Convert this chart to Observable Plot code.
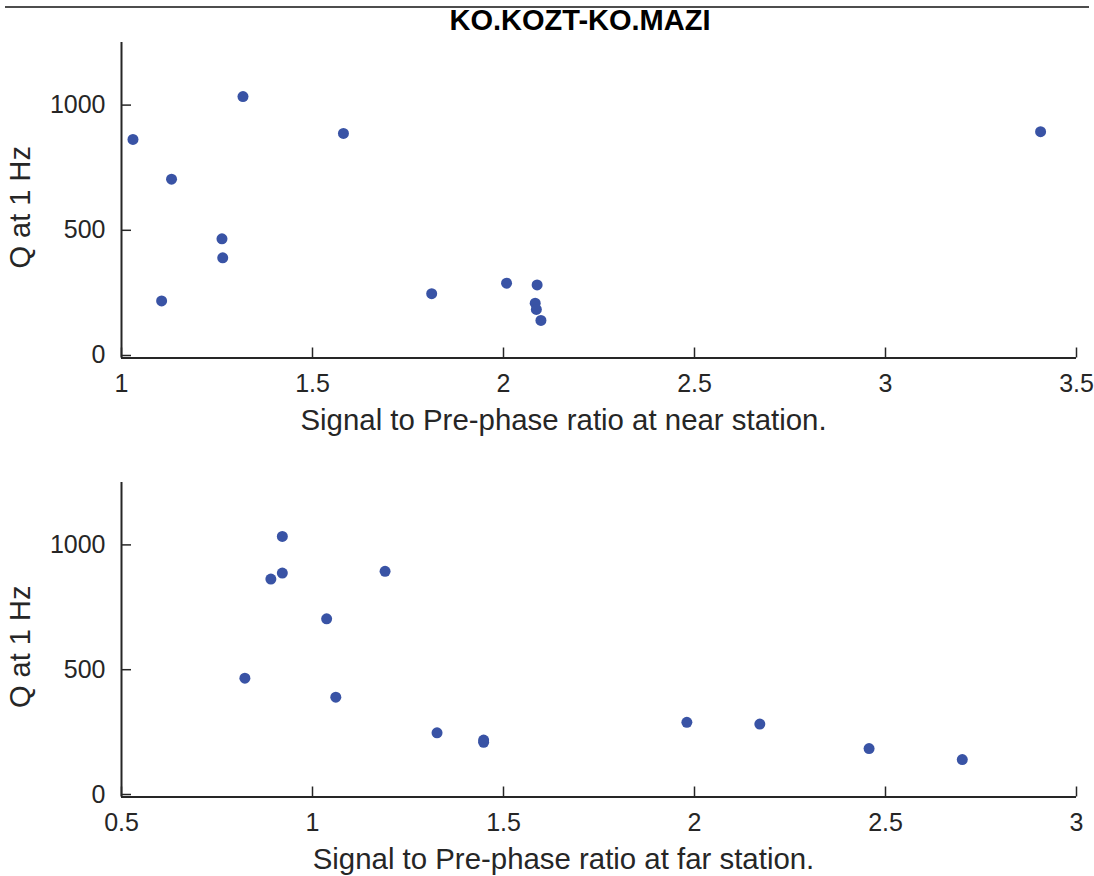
<!DOCTYPE html>
<html>
<head>
<meta charset="utf-8">
<script src="https://cdn.jsdelivr.net/npm/d3@7"></script>
<script src="https://cdn.jsdelivr.net/npm/@observablehq/plot@0.6"></script>
<style>
  body { margin: 0; background: #fff; width: 1094px; height: 876px; position: relative; overflow: hidden;
         font-family: "Liberation Sans", Arial, sans-serif; color: #262626; }
  #rule { position: absolute; left: 5px; top: 6px; width: 1084px; height: 2px; background: #4d4d4d; }
  #title { position: absolute; top: 6px; left: 0; width: 1160px; text-align: center; font-weight: bold;
           font-size: 29px; line-height: 29px; color: #000; }
  #near { position: absolute; top: 36px; left: 0; }
  #far { position: absolute; top: 466px; left: 0; }
</style>
</head>
<body>
<div id="rule"></div>
<div id="title">KO.KOZT-KO.MAZI</div>
<div id="near"></div>
<div id="far"></div>
<script>
// Q at 1 Hz for each station-pair measurement
const qAt1Hz = [863, 218, 704, 466, 390, 1034, 887, 247, 289, 282, 209, 184, 140, 894];
// Signal to pre-phase ratio at the near station
const nearRatio = [1.030, 1.105, 1.131, 1.263, 1.265, 1.318, 1.581, 1.812, 2.008, 2.088, 2.083, 2.086, 2.098, 3.406];
// Signal to pre-phase ratio at the far station
const farRatio = [0.891, 1.448, 1.037, 0.823, 1.061, 0.921, 0.921, 1.326, 1.980, 2.171, 1.448, 2.457, 2.701, 1.190];

const qTicks = [0, 500, 1000];
const nearTicks = [1, 1.5, 2, 2.5, 3, 3.5];
const farTicks = [0.5, 1, 1.5, 2, 2.5, 3];
const qDomain = [-10, 1250];
const nearDomain = [1, 3.5];
const farDomain = [0.5, 3];

const ink = "#262626";
const dotColor = "#3953a5";
const W = 1094, ML = 121, MR = 18;

function panel({ratio, xDomain, xTicks, xLabel, height, marginTop, marginBottom}) {
  const rows = qAt1Hz.map((q, i) => ({ratio: ratio[i], q}));
  const innerH = height - marginTop - marginBottom;
  const innerW = W - ML - MR;
  return Plot.plot({
    width: W, height, marginLeft: ML, marginRight: MR, marginTop, marginBottom,
    style: {fontFamily: "Liberation Sans, Arial, sans-serif", color: ink, background: "white", overflow: "visible"},
    x: {domain: xDomain},
    y: {domain: qDomain},
    marks: [
      Plot.axisX(xTicks, {tickSize: 0, tickPadding: 16, fontSize: 25, tickFormat: d => String(d), label: null}),
      Plot.axisY(qTicks, {tickSize: 0, tickPadding: 16, fontSize: 25, tickFormat: d => String(d), label: null}),
      // inward-pointing tick marks
      Plot.tickX(xTicks, {x: d => d, insetTop: innerH - 10, stroke: ink, strokeWidth: 1.5}),
      Plot.tickY(qTicks, {y: d => d, insetRight: innerW - 10, stroke: ink, strokeWidth: 1.5}),
      // left and bottom axis lines
      Plot.ruleX([xDomain[0]], {stroke: ink, strokeWidth: 2}),
      Plot.ruleY([qDomain[0]], {stroke: ink, strokeWidth: 2}),
      Plot.dot(rows, {x: "ratio", y: "q", r: 5.5, fill: dotColor}),
      Plot.text([xLabel], {frameAnchor: "bottom", dx: -35.5, dy: 63, textAnchor: "middle", lineAnchor: "middle", fontSize: 29.4, fill: ink}),
      Plot.text(["Q at 1 Hz"], {frameAnchor: "left", dx: -101, dy: 7, rotate: -90, textAnchor: "middle", lineAnchor: "middle", fontSize: 29, fill: ink})
    ]
  });
}

document.getElementById("near").append(panel({
  ratio: nearRatio, xDomain: nearDomain, xTicks: nearTicks,
  xLabel: "Signal to Pre-phase ratio at near station.",
  height: 430, marginTop: 6, marginBottom: 108.5
}));

document.getElementById("far").append(panel({
  ratio: farRatio, xDomain: farDomain, xTicks: farTicks,
  xLabel: "Signal to Pre-phase ratio at far station.",
  height: 410, marginTop: 16, marginBottom: 79.5
}));
</script>
</body>
</html>
